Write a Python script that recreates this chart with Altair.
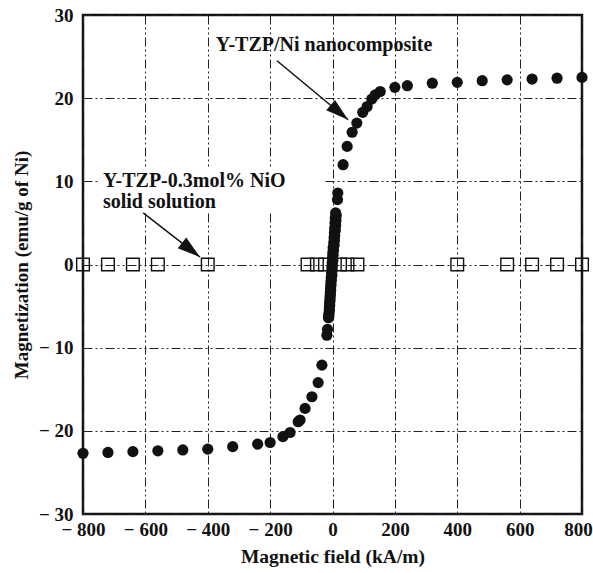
import altair as alt
import pandas as pd

# Y-TZP/Ni nanocomposite: applied field (kA/m) and magnetization (emu/g of Ni)
ni_field = [
    800, 720, 640, 560, 480, 400, 320, 240, 200, 153, 137, 126, 111, 97, 78, 63, 47, 34, 17, 16,
    10, 9, 8, 7, 6, 5, 4, 2, 1, 0, -1, -2, -3, -4, -5, -6, -7, -8, -9, -10, -11, -12,
    12, 11, 10, 9, 7, 6, 5, 3, 2, 1, 0, -1, -2, -4, -5, -6, -7, -8, -9, -10, -12, -13,
    -16, -18, -34, -46, -66, -88, -104, -110, -136, -159, -200, -240, -320, -400, -480, -560, -640, -720, -800,
]
ni_magnetization = [
    22.5, 22.4, 22.3, 22.2, 22.1, 21.9, 21.8, 21.5, 21.3, 20.8, 20.4, 19.9, 19.0, 18.3, 17.0, 15.9, 14.2, 12.0, 8.6, 7.8,
    6.2, 5.6, 5.0, 4.4, 3.8, 3.2, 2.6, 2.0, 1.4, 0.8, 0.2, -0.4, -1.0, -1.6, -2.2, -2.8, -3.4, -4.0, -4.6, -5.2, -5.8, -6.3,
    5.9, 5.3, 4.7, 4.1, 3.5, 2.9, 2.3, 1.7, 1.1, 0.5, -0.1, -0.7, -1.3, -1.9, -2.5, -3.1, -3.7, -4.3, -4.9, -5.5, -6.1, -6.4,
    -7.8, -8.5, -12.1, -14.2, -15.9, -17.3, -18.7, -18.9, -20.2, -20.7, -21.4, -21.6, -21.9, -22.2, -22.3, -22.4, -22.5, -22.6, -22.7,
]

# Y-TZP-0.3mol% NiO solid solution: no measurable magnetization
nio_field = [-800, -720, -640, -560, -400, -80, -50, -24, 24, 48, 80, 400, 560, 640, 720, 800]
nio_magnetization = [0] * len(nio_field)

x_ticks = [-800, -600, -400, -200, 0, 200, 400, 600, 800]
y_ticks = [-30, -20, -10, 0, 10, 20, 30]

FONT = "Liberation Serif"
INK = "#111111"

ni = pd.DataFrame({"H": ni_field, "M": ni_magnetization})
nio = pd.DataFrame({"H": nio_field, "M": nio_magnetization})

x_scale = alt.Scale(domain=[-800, 800], nice=False, zero=False)
y_scale = alt.Scale(domain=[-30, 30], nice=False, zero=False)

neg_label = "datum.value < 0 ? '\u2212 ' + abs(datum.value) : '' + datum.value"
grid_dash = [9, 3, 2, 3, 2, 3]

x_axis = alt.Axis(
    title="Magnetic field (kA/m)", values=x_ticks, labelExpr=neg_label,
    grid=True, gridDash=grid_dash, gridColor="#222222", gridWidth=1,
    domain=False, ticks=False, labelPadding=6, titlePadding=8,
    labelFlush=False, labelOverlap=False, labelBound=False,
    # keep the last label inside the canvas
    labelOffset={"condition": {"test": "datum.value == 800", "value": -4}, "value": 0},
    labelFont=FONT, labelFontSize=19, labelFontWeight="bold", labelColor=INK,
    titleFont=FONT, titleFontSize=19.5, titleFontWeight="bold", titleColor=INK,
)
y_axis = alt.Axis(
    title="Magnetization (emu/g of Ni)", values=y_ticks, labelExpr=neg_label,
    grid=True, gridDash=grid_dash, gridColor="#222222", gridWidth=1,
    domain=False, ticks=False, labelPadding=10, titlePadding=7,
    labelFlush=False, labelOverlap=False, labelBound=False,
    labelFont=FONT, labelFontSize=19, labelFontWeight="bold", labelColor=INK,
    titleFont=FONT, titleFontSize=19, titleFontWeight="bold", titleColor=INK,
)


def xy(xf, yf):
    return dict(
        x=alt.X(xf, scale=x_scale, axis=x_axis),
        y=alt.Y(yf, scale=y_scale, axis=y_axis),
    )


# white patch behind the NiO label
label_box = alt.Chart(pd.DataFrame({"x": [-745], "x2": [-24], "y": [6.3], "y2": [11.7]})).mark_rect(
    color="white"
).encode(x2="x2:Q", y2="y2:Q", **xy("x:Q", "y:Q"))

squares = alt.Chart(nio).mark_point(
    shape="square", size=160, filled=False, color=INK, strokeWidth=1.4, opacity=1
).encode(**xy("H:Q", "M:Q"))

circles = alt.Chart(ni).mark_circle(size=125, color=INK, opacity=1).encode(**xy("H:Q", "M:Q"))

# annotation arrows: tail -> tip
arrows = pd.DataFrame({
    "x": [-178, -607], "y": [24.5, 6.2],
    "x2": [50, -425], "y2": [17.4, 0.9],
    "angle": [130, 128],
})
arrow_lines = alt.Chart(arrows).mark_rule(color=INK, strokeWidth=1.5).encode(
    x2="x2:Q", y2="y2:Q", **xy("x:Q", "y:Q")
)
arrow_heads = alt.Chart(arrows).mark_point(
    shape="M0,0L-0.6,2L0.6,2Z", filled=True, color=INK, size=520, opacity=1, strokeWidth=0
).encode(angle=alt.Angle("angle:Q", scale=None), **xy("x2:Q", "y2:Q"))

top_label = alt.Chart(pd.DataFrame({"x": [-27], "y": [26.4], "t": ["Y-TZP/Ni nanocomposite"]})).mark_text(
    font=FONT, fontSize=20, fontWeight="bold", color=INK, align="center", baseline="middle"
).encode(text="t:N", **xy("x:Q", "y:Q"))

left_label = alt.Chart(pd.DataFrame({
    "x": [-736, -736], "y": [10.0, 7.5], "t": ["Y-TZP-0.3mol% NiO", "solid solution"]
})).mark_text(
    font=FONT, fontSize=20, fontWeight="bold", color=INK, align="left", baseline="middle"
).encode(text="t:N", **xy("x:Q", "y:Q"))

chart = alt.layer(
    squares, label_box, circles, arrow_lines, arrow_heads, top_label, left_label
).properties(
    width=499, height=499,
    autosize=alt.AutoSizeParams(type="none"),
    padding={"left": 83, "top": 15, "right": 11, "bottom": 59},
    background="white",
).configure_view(stroke=INK, strokeWidth=2.5)

chart.save("out.html", embed_options={"renderer": "svg", "actions": False})
